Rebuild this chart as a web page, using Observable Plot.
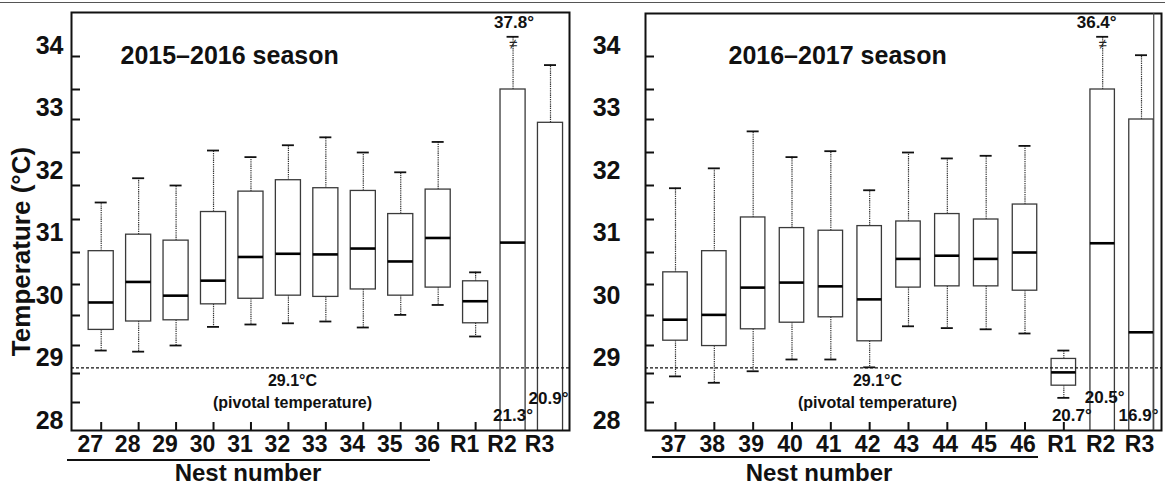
<!DOCTYPE html>
<html>
<head>
<meta charset="utf-8">
<script src="https://cdn.jsdelivr.net/npm/d3@7"></script>
<script src="https://cdn.jsdelivr.net/npm/@observablehq/plot@0.6"></script>
<style>
  body { margin: 0; background: #fff; }
  #wrap { position: relative; width: 1165px; height: 484px; background: #fff; font-family: 'Liberation Sans', Arial, sans-serif; color: #111; }
  .panel { position: absolute; top: 0; height: 484px; }
  .uline { position: absolute; border-top: 2px solid #111; height: 0; }
  .xcap { position: absolute; font-weight: bold; font-size: 24px; line-height: 24px; text-align: center; width: 220px; }
</style>
</head>
<body>
<div id="wrap">
  <div id="p1" class="panel" style="left:0;width:580px"></div>
  <div id="p2" class="panel" style="left:580px;width:585px"></div>
  <div style="position:absolute;left:0;top:2px;width:1165px;border-top:1.5px solid #555"></div>
</div>
<script>
// ---------- data ----------
const yAxisTitle = "Temperature (°C)";
const xAxisTitle = "Nest number";
const pivotal = 29.1;
const pivotalText1 = "29.1°C";
const pivotalText2 = "(pivotal temperature)";
const axisBreak = 34.3; // value where the broken whisker is cut

// 2015–2016 season
const title1 = "2015–2016 season";
const nests1 = ["27","28","29","30","31","32","33","34","35","36","R1","R2","R3"];
const max1 = [31.75, 32.11, 32.00, 32.53, 32.43, 32.61, 32.73, 32.50, 32.20, 32.66, 30.69, 37.8, 33.87];
const q3_1 = [31.02, 31.27, 31.18, 31.61, 31.91, 32.08, 31.96, 31.92, 31.58, 31.94, 30.55, 33.50, 32.95];
const med1 = [30.21, 30.54, 30.32, 30.56, 30.93, 30.98, 30.97, 31.06, 30.86, 31.22, 30.23, 31.15, null];
const q1_1 = [29.76, 29.90, 29.92, 30.18, 30.27, 30.32, 30.30, 30.42, 30.32, 30.45, 29.87, null, null];
const min1 = [29.41, 29.39, 29.50, 29.81, 29.85, 29.87, 29.90, 29.80, 30.01, 30.17, 29.65, 21.3, 20.9];
const lowNests1 = ["R2", "R3"];
const lowTexts1 = ["21.3°", "20.9°"];

// 2016–2017 season
const title2 = "2016–2017 season";
const nests2 = ["37","38","39","40","41","42","43","44","45","46","R1","R2","R3"];
const max2 = [31.96, 32.26, 32.82, 32.43, 32.52, 31.93, 32.50, 32.41, 32.45, 32.60, 29.41, 36.4, 34.02];
const q3_2 = [30.69, 31.02, 31.53, 31.37, 31.33, 31.40, 31.47, 31.58, 31.50, 31.72, 29.26, 33.50, 33.00];
const med2 = [29.93, 30.01, 30.45, 30.53, 30.47, 30.26, 30.90, 30.95, 30.90, 31.00, 29.02, 31.14, 29.72];
const q1_2 = [29.58, 29.49, 29.77, 29.88, 29.97, 29.57, 30.45, 30.47, 30.47, 30.40, 28.79, null, null];
const min2 = [28.95, 28.84, 29.04, 29.25, 29.25, 29.11, 29.82, 29.79, 29.77, 29.70, 28.58, 20.5, 16.9];
const lowNests2 = ["R1", "R2", "R3"];
const lowTexts2 = ["20.7°", "20.5°", "16.9°"];

// y-axis ticks
const yMinorTicks = [28.5, 29, 29.5, 30, 30.5, 31, 31.5, 32, 32.5, 33, 33.5, 34];
const yLabelTicks = [28, 29, 30, 31, 32, 33, 34];

// ---------- layout ----------
// the figure's temperature axis is uneven: warp values onto it before the linear scale
const warpDomain = [28, 28.5, 29, 29.5, 30, 30.5, 31, 31.5, 32, 32.5, 33, 33.5, 34, 34.67];
const warpPx     = [430, 402, 373, 345, 315, 284, 252, 219, 185, 152, 119, 89, 56, 12];
const warpPxScale = d3.scaleLinear(warpDomain, warpPx);
const warp = v => (v == null ? v : 28 + (430 - warpPxScale(v)) / 62.5);
const FONT = "'Liberation Sans', Arial, Helvetica, sans-serif";

function drawPanel(cfg) {
  const rows = cfg.nests.map((n, i) => ({nest: n, max: cfg.max[i], q3: cfg.q3[i], med: cfg.med[i], q1: cfg.q1[i], min: cfg.min[i]}));
  const lows = cfg.lowNests.map((n, i) => ({nest: n, text: cfg.lowTexts[i]}));
  const hiDraw = d => Math.min(d.max, axisBreak);
  const n = cfg.nests.length;
  const step = (cfg.xRange[1] - cfg.xRange[0]) / (n + cfg.pad);
  const bw = step * (1 - cfg.pad);
  const capInset = (bw - 12) / 2;
  const fw = cfg.width - cfg.ml - cfg.mr;
  const fh = 430 - cfg.mt;
  const withLow = rows.filter(d => d.q1 != null);
  const broken = rows.filter(d => d.max > axisBreak);

  const marks = [
    // inward tick marks
    Plot.tickY(yMinorTicks, {y: d => d, insetRight: fw - 9, stroke: "#111", strokeWidth: 2}),
    Plot.tickX(cfg.nests, {x: d => d, insetTop: fh - 8, stroke: "#111", strokeWidth: 2}),
    Plot.ruleX(rows, {x: "nest", y1: "q3", y2: hiDraw, stroke: "#333", strokeWidth: 1.2, strokeDasharray: "1.3,0.9", clip: true}),
    Plot.ruleX(withLow, {x: "nest", y1: "q1", y2: "min", stroke: "#333", strokeWidth: 1.2, strokeDasharray: "1.3,0.9", clip: true}),
    Plot.barY(rows, {x: "nest", y1: d => d.q1 ?? d.min, y2: "q3", fill: "white", stroke: "#3a3a3a", strokeWidth: 1.3, clip: true}),
    Plot.tickY(rows.filter(d => d.med != null), {x: "nest", y: "med", stroke: "#000", strokeWidth: 2.6}),
    Plot.tickY(rows, {x: "nest", y: hiDraw, insetLeft: capInset, insetRight: capInset, stroke: "#111", strokeWidth: 1.8}),
    Plot.tickY(withLow, {x: "nest", y: "min", insetLeft: capInset, insetRight: capInset, stroke: "#111", strokeWidth: 1.8}),
    Plot.text(broken, {x: "nest", y: () => axisBreak, text: () => "≠", dy: 7, fontSize: 15, fill: "#222"}),
    Plot.text(broken, {x: "nest", y: () => axisBreak, text: d => d.max.toFixed(1) + "°", dy: -14, dx: cfg.maxDx, fontSize: 17, fontWeight: "bold"}),
    Plot.ruleY([pivotal], {y: d => d, stroke: "#111", strokeWidth: 1.3, strokeDasharray: "3,2"}),
    Plot.text([pivotalText1], {y: () => pivotal, frameAnchor: "middle", dx: cfg.pivDx, dy: 13, fontSize: 16, fontWeight: "bold"}),
    Plot.text([pivotalText2], {y: () => pivotal, frameAnchor: "middle", dx: cfg.pivDx, dy: 35, fontSize: 16, fontWeight: "bold"}),
    ...lows.map((d, i) => Plot.text([d], {x: "nest", text: "text", frameAnchor: "bottom", lineAnchor: "middle",
      dx: cfg.lowOff[i][0], dy: cfg.lowOff[i][1], fontSize: 17, fontWeight: "bold"})),
    Plot.frame({stroke: "#111", strokeWidth: 2}),
    Plot.axisY({ticks: yLabelTicks, tickSize: 0, tickPadding: cfg.yPad, fontSize: 25, fontWeight: "bold", dy: -10, label: null, tickFormat: d => String(d)}),
    Plot.axisX({tickSize: 0, tickPadding: 5, fontSize: 23, fontWeight: "bold", dx: cfg.xLabDx, label: null}),
    Plot.text([cfg.title], {frameAnchor: "top-left", dx: cfg.titleDx, dy: cfg.titleDy, textAnchor: "start", lineAnchor: "middle", fontSize: 25, fontWeight: "bold"})
  ];
  if (cfg.yTitle) {
    marks.push(Plot.text([cfg.yTitle], {frameAnchor: "left", rotate: -90, textAnchor: "middle", lineAnchor: "middle", dx: -50, dy: 30, fontSize: 26, fontWeight: "bold"}));
  }
  if (cfg.edgeLine) {
    marks.push(Plot.ruleX(["R3"], {x: d => d, dx: bw / 2, stroke: "#444", strokeWidth: 1.2}));
  }
  return Plot.plot({
    width: cfg.width, height: 455,
    marginLeft: cfg.ml, marginRight: cfg.mr, marginTop: cfg.mt, marginBottom: 25,
    style: {fontFamily: FONT, color: "#111", background: "white", overflow: "visible"},
    x: {type: "band", domain: cfg.nests, range: cfg.xRange, padding: cfg.pad, round: false},
    y: {type: "linear", transform: warp, domain: [28, 28 + 418 / 62.5], range: [430, 12]},
    marks
  });
}

function addCaption(el, ulLeft, ulTop, ulWidth, capLeft) {
  const u = document.createElement("div");
  u.className = "uline";
  u.style.left = ulLeft + "px"; u.style.top = ulTop + "px"; u.style.width = ulWidth + "px";
  el.appendChild(u);
  const c = document.createElement("div");
  c.className = "xcap";
  c.style.left = capLeft + "px"; c.style.top = "461px";
  c.textContent = xAxisTitle;
  el.appendChild(c);
}

const p1 = document.getElementById("p1");
p1.appendChild(drawPanel({
  nests: nests1, max: max1, q3: q3_1, med: med1, q1: q1_1, min: min1,
  lowNests: lowNests1, lowTexts: lowTexts1, lowOff: [[0, -15], [-2, -32]],
  title: title1, titleDx: 49, titleDy: 43,
  width: 580, ml: 71, mr: 11, mt: 12,
  xRange: [75.8, 574.9], pad: 0.33, xLabDx: -11, yPad: 8,
  maxDx: 1, pivDx: -28, yTitle: yAxisTitle, edgeLine: false
}));
addCaption(p1, 67, 459, 363, 138);

const p2 = document.getElementById("p2");
p2.appendChild(drawPanel({
  nests: nests2, max: max2, q3: q3_2, med: med2, q1: q1_2, min: min2,
  lowNests: lowNests2, lowTexts: lowTexts2, lowOff: [[8, -15], [2, -33], [-3, -15]],
  title: title2, titleDx: 83, titleDy: 42,
  width: 585, ml: 65, mr: 4, mt: 13,
  xRange: [68.4, 587.6], pad: 0.37, xLabDx: -2, yPad: 25,
  maxDx: -6, pivDx: -26, yTitle: null, edgeLine: true
}));
addCaption(p2, 72, 456, 386, 129);
</script>
</body>
</html>
